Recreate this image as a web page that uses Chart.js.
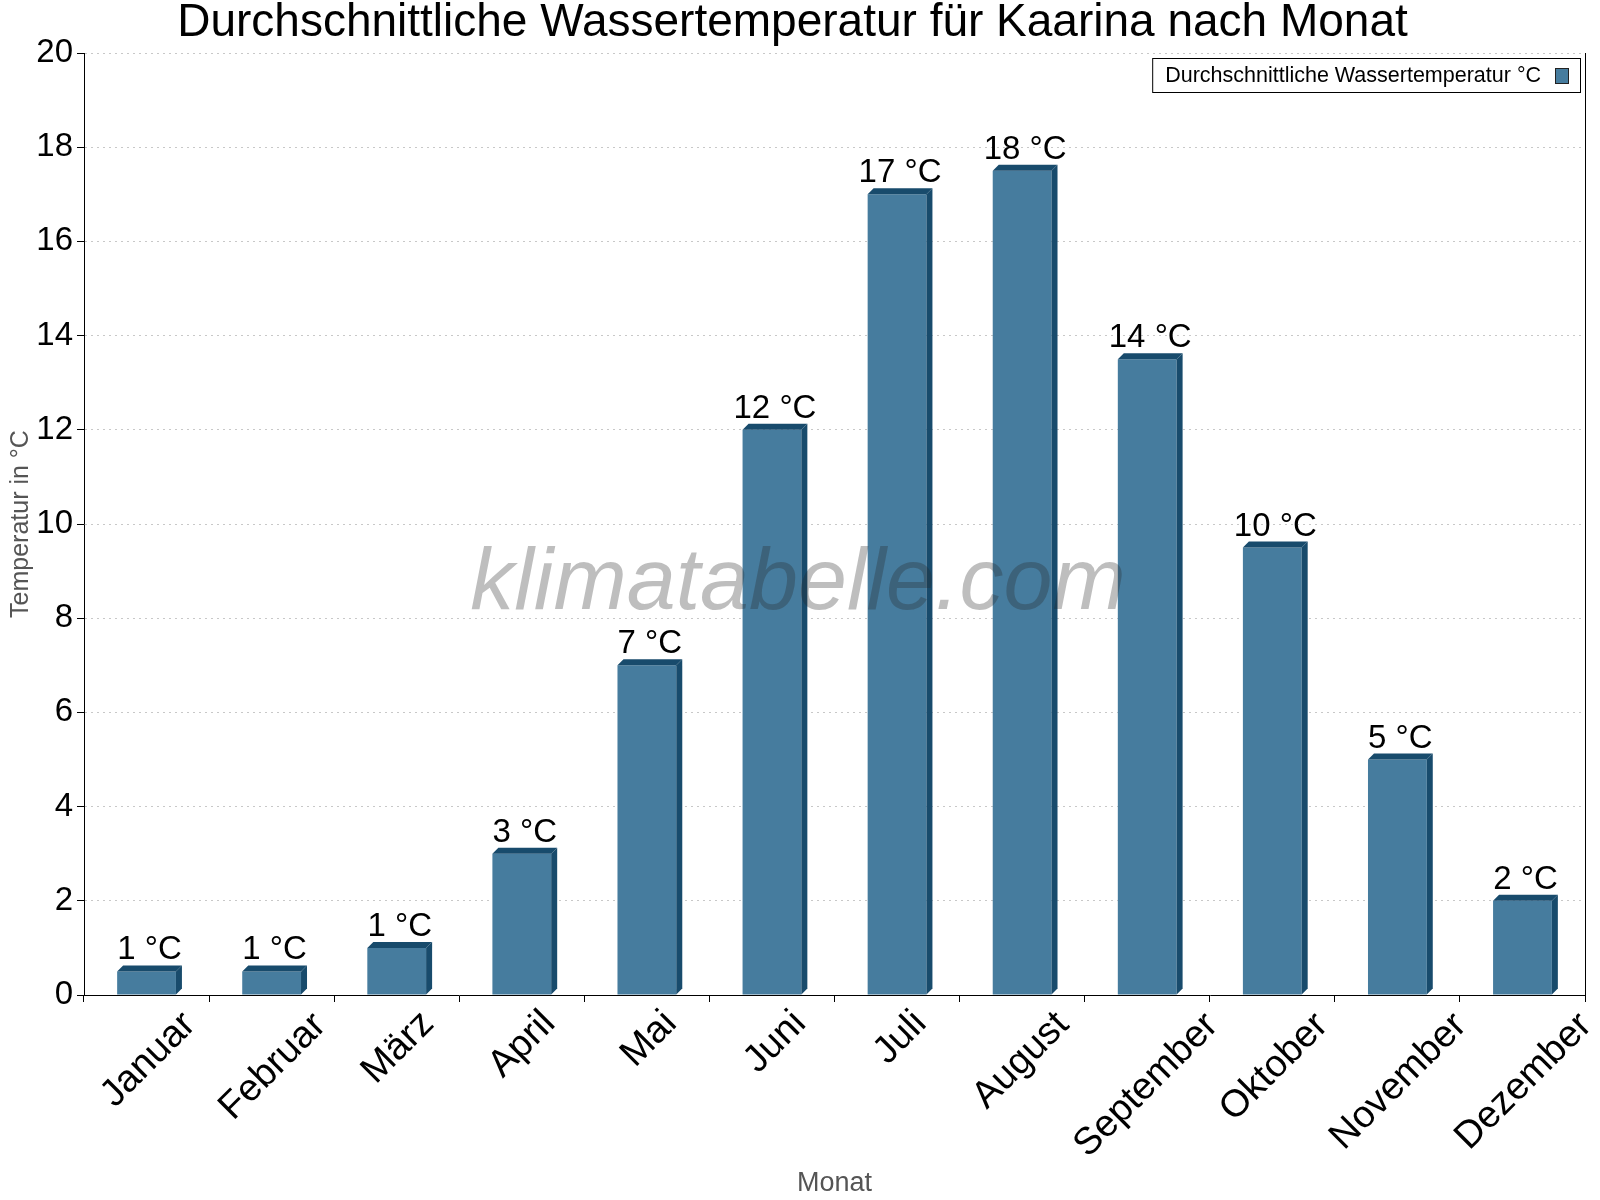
<!DOCTYPE html>
<html>
<head>
<meta charset="utf-8">
<script src="https://cdn.jsdelivr.net/npm/chart.js@4.4.1/dist/chart.umd.min.js"></script>
<style>
  body { margin: 0; background: #fff; }
  #wrap { width: 1600px; height: 1200px; }
</style>
</head>
<body>
<div id="wrap"><canvas id="waterChart" width="1600" height="1200"></canvas></div>
<script>
// Data
const months = ["Januar", "Februar", "März", "April", "Mai", "Juni", "Juli", "August", "September", "Oktober", "November", "Dezember"];
const waterTemps = [0.5, 0.5, 1, 3, 7, 12, 17, 17.5, 13.5, 9.5, 5, 2];
const tempLabels = ["1 °C", "1 °C", "1 °C", "3 °C", "7 °C", "12 °C", "17 °C", "18 °C", "14 °C", "10 °C", "5 °C", "2 °C"];
const yTicks = [0, 2, 4, 6, 8, 10, 12, 14, 16, 18, 20];

const frontColor = "#467c9e";
const sideColor = "#184b6c";
const depth = 6;
const font = "'Liberation Sans', Arial, sans-serif";

// 3D side + top of each bar, value labels, legend box, watermark
const barExtras = {
    id: "barExtras",
    afterDatasetsDraw(chart) {
        const ctx = chart.ctx;
        const meta = chart.getDatasetMeta(0);
        const area = chart.chartArea;

        meta.data.forEach((bar, i) => {
            const half = bar.width / 2;
            const left = bar.x - half;
            const right = bar.x + half;
            const top = bar.y;
            const bottom = bar.base;

            ctx.save();
            ctx.fillStyle = sideColor;
            // right side
            ctx.beginPath();
            ctx.moveTo(right, top);
            ctx.lineTo(right + depth, top - depth);
            ctx.lineTo(right + depth, bottom - depth);
            ctx.lineTo(right, bottom);
            ctx.closePath();
            ctx.fill();
            // top
            ctx.beginPath();
            ctx.moveTo(left, top);
            ctx.lineTo(left + depth, top - depth);
            ctx.lineTo(right + depth, top - depth);
            ctx.lineTo(right, top);
            ctx.closePath();
            ctx.fill();

            // value label
            ctx.fillStyle = "#000";
            ctx.font = "33px " + font;
            ctx.textAlign = "center";
            ctx.textBaseline = "alphabetic";
            ctx.fillText(tempLabels[i], bar.x + depth / 2, top - depth - 6);
            ctx.restore();
        });

        // month labels, rotated 45° and centred under each category
        const xScale = chart.scales.x;
        ctx.save();
        ctx.font = "38px " + font;
        ctx.fillStyle = "#000";
        ctx.textAlign = "left";
        ctx.textBaseline = "alphabetic";
        const c = Math.SQRT1_2;
        chart.data.labels.forEach((label, i) => {
            const m = ctx.measureText(label);
            const x0 = -m.actualBoundingBoxLeft, x1 = m.actualBoundingBoxRight;
            const y0 = -m.actualBoundingBoxAscent, y1 = m.actualBoundingBoxDescent;
            const corners = [[x0, y0], [x1, y0], [x0, y1], [x1, y1]];
            const rx = corners.map(([x, y]) => c * (x + y));
            const ry = corners.map(([x, y]) => c * (y - x));
            const cx = (Math.min(...rx) + Math.max(...rx)) / 2;
            const topY = Math.min(...ry);
            const px = xScale.getPixelForTick(i) - cx;
            const py = xScale.top + 12 - topY;
            ctx.save();
            ctx.translate(px, py);
            ctx.rotate(-Math.PI / 4);
            ctx.fillText(label, 0, 0);
            ctx.restore();
        });
        ctx.restore();

        // right border of plot
        ctx.save();
        ctx.strokeStyle = "#000";
        ctx.lineWidth = 1;
        ctx.beginPath();
        ctx.moveTo(area.right + 0.5, area.top);
        ctx.lineTo(area.right + 0.5, area.bottom);
        ctx.stroke();

        // legend inside the plot, top right
        const text = chart.data.datasets[0].label;
        ctx.font = "21.5px " + font;
        const tw = ctx.measureText(text).width;
        const boxW = tw + 52;
        const boxH = 34;
        const bx = area.right - 5 - boxW;
        const by = area.top + 5;
        ctx.fillStyle = "#fff";
        ctx.fillRect(bx, by, boxW, boxH);
        ctx.strokeStyle = "#000";
        ctx.strokeRect(bx + 0.5, by + 0.5, boxW, boxH);
        ctx.fillStyle = "#000";
        ctx.textAlign = "left";
        ctx.textBaseline = "middle";
        ctx.fillText(text, bx + 13, by + boxH / 2 + 1);
        ctx.fillStyle = frontColor;
        ctx.fillRect(bx + boxW - 25, by + 10, 13, 15);
        ctx.strokeStyle = "#222";
        ctx.strokeRect(bx + boxW - 25 + 0.5, by + 10.5, 13, 15);

        // watermark
        ctx.font = "italic 88px " + font;
        ctx.fillStyle = "rgba(40,40,40,0.3)";
        ctx.textAlign = "center";
        ctx.textBaseline = "middle";
        ctx.fillText("klimatabelle.com", 798, 585);
        ctx.restore();
    }
};

new Chart(document.getElementById("waterChart"), {
    type: "bar",
    data: {
        labels: months,
        datasets: [{
            label: "Durchschnittliche Wassertemperatur °C",
            data: waterTemps,
            backgroundColor: frontColor,
            borderWidth: 0,
            barPercentage: 0.47,
            categoryPercentage: 1.0
        }]
    },
    options: {
        responsive: false,
        animation: false,
        layout: { padding: { top: 0, right: 15, left: 0, bottom: 0 } },
        plugins: {
            legend: { display: false },
            tooltip: { enabled: false },
            title: {
                display: true,
                text: "Durchschnittliche Wassertemperatur für Kaarina nach Monat",
                color: "#000",
                font: { family: font, size: 46, weight: "normal", lineHeight: 1.0 },
                padding: { top: 0, bottom: 7 }
            }
        },
        scales: {
            x: {
                offset: true,
                grid: {
                    offset: true,
                    drawOnChartArea: false,
                    color: "#000",
                    tickLength: 7
                },
                border: { color: "#000", width: 1 },
                ticks: { display: false },
                title: {
                    display: true,
                    text: "Monat",
                    color: "#555",
                    font: { family: font, size: 27 },
                    padding: { top: 0, bottom: 0 }
                },
                afterFit(scale) { scale.height = 205; }
            },
            y: {
                min: 0,
                max: 20,
                afterBuildTicks(scale) { scale.ticks = yTicks.map(v => ({ value: v })); },
                grid: {
                    color: "#c8c8c8",
                    tickColor: "#000",
                    tickLength: 7,
                    tickBorderDash: [0, 0]
                },
                border: { color: "#000", width: 1, dash: [2, 4] },
                ticks: {
                    color: "#000",
                    font: { family: font, size: 33 },
                    padding: 4
                },
                title: {
                    display: true,
                    text: "Temperatur in °C",
                    color: "#555",
                    font: { family: font, size: 25 },
                    padding: { top: 6, bottom: 0 }
                },
                afterFit(scale) { scale.width = 84; }
            }
        }
    },
    plugins: [barExtras]
});
</script>
</body>
</html>
